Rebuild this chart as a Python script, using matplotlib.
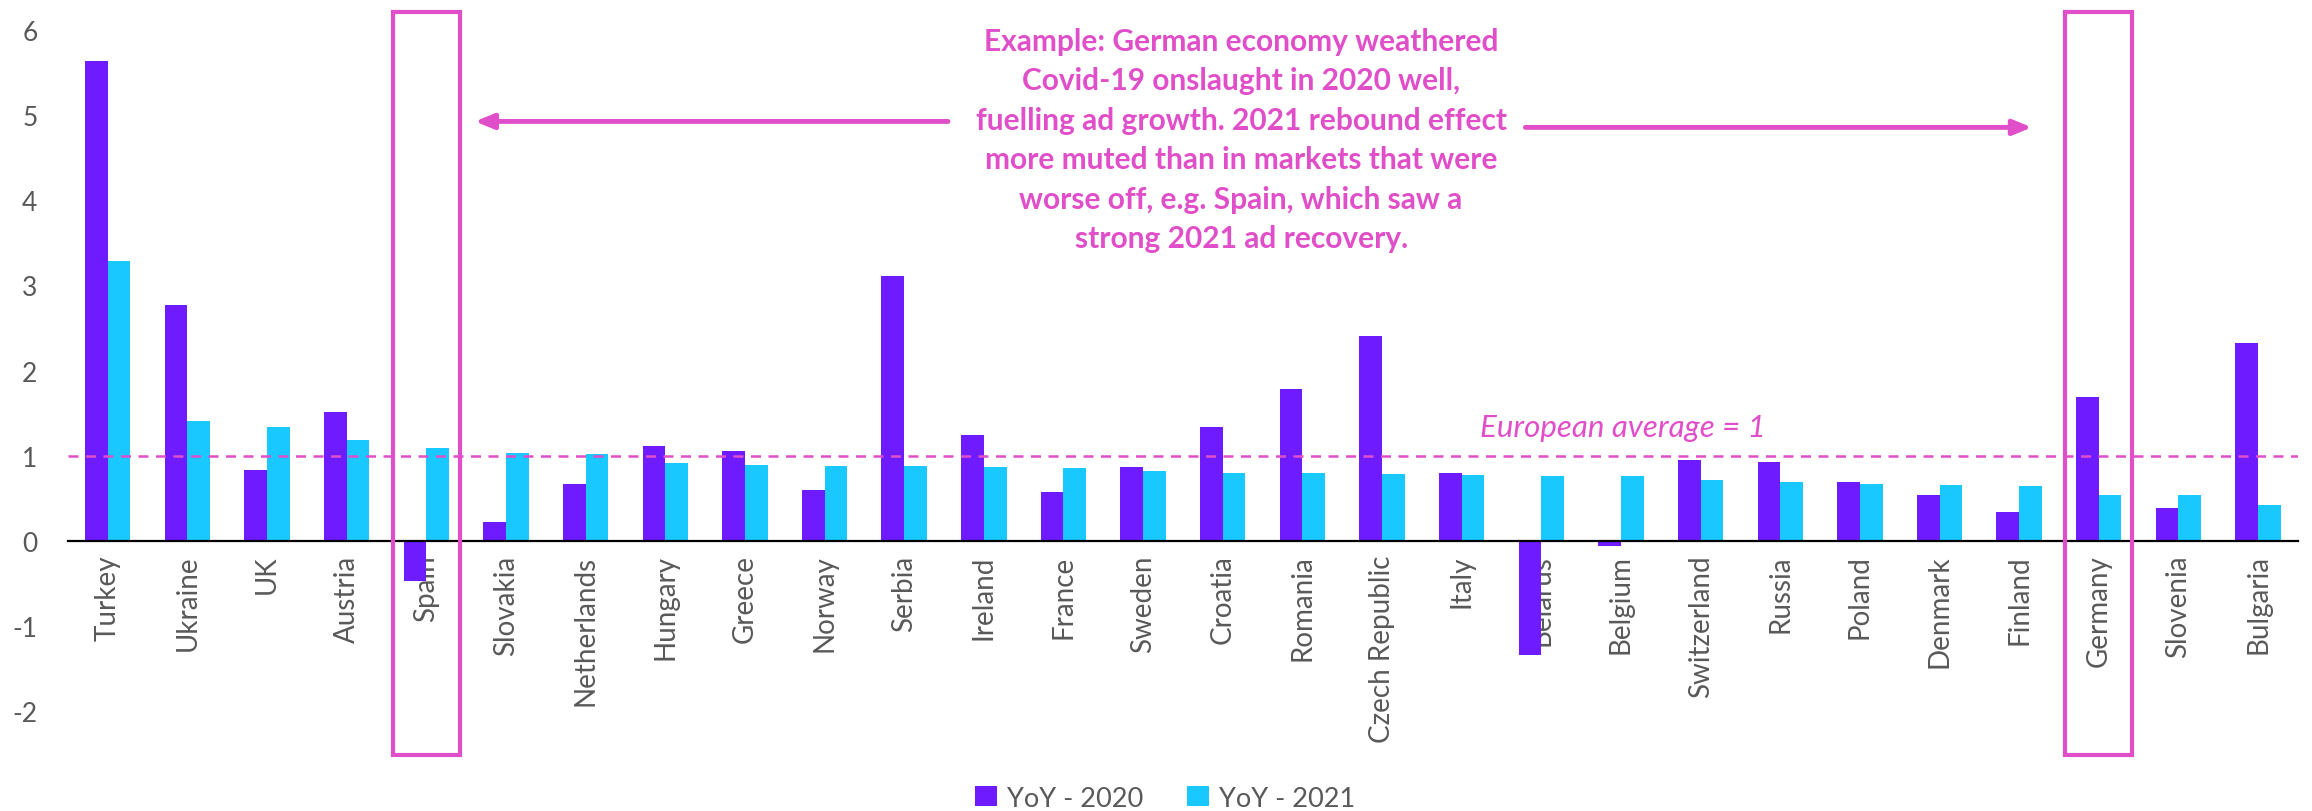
import matplotlib
matplotlib.use("Agg")
import matplotlib.pyplot as plt
from matplotlib.patches import Rectangle
import numpy as np

countries = ["Turkey", "Ukraine", "UK", "Austria", "Spain", "Slovakia", "Netherlands",
             "Hungary", "Greece", "Norway", "Serbia", "Ireland", "France", "Sweden",
             "Croatia", "Romania", "Czech Republic", "Italy", "Belarus", "Belgium",
             "Switzerland", "Russia", "Poland", "Denmark", "Finland", "Germany",
             "Slovenia", "Bulgaria"]
yoy_2020 = [5.64, 2.77, 0.83, 1.51, -0.48, 0.22, 0.67, 1.11, 1.05, 0.60, 3.11, 1.24,
            0.57, 0.86, 1.33, 1.78, 2.40, 0.79, -1.35, -0.06, 0.95, 0.92, 0.69, 0.54,
            0.34, 1.69, 0.38, 2.32]
yoy_2021 = [3.29, 1.41, 1.33, 1.18, 1.09, 1.03, 1.02, 0.91, 0.89, 0.88, 0.88, 0.87,
            0.85, 0.82, 0.80, 0.79, 0.78, 0.77, 0.76, 0.76, 0.71, 0.69, 0.66, 0.65,
            0.64, 0.54, 0.54, 0.42]
highlighted = ["Spain", "Germany"]
european_avg = 1
note = ("Example: German economy weathered\nCovid-19 onslaught in 2020 well,\n"
        "fuelling ad growth. 2021 rebound effect\nmore muted than in markets that were\n"
        "worse off, e.g. Spain, which saw a\nstrong 2021 ad recovery.")

purple = "#6E1BFF"
cyan = "#18C8FF"
pink = "#E04FC9"
grey = "#595959"
plt.rcParams["font.family"] = ["Lato", "DejaVu Sans"]
plt.rcParams["axes.unicode_minus"] = False

fig = plt.figure(figsize=(23.12, 8.12), dpi=100)
ax = fig.add_axes([0.0294, 0.0714, 0.9645, 0.916])

x = np.arange(len(countries))
w = 0.285
ax.bar(x - w / 2, yoy_2020, w, color=purple, label="YoY - 2020", zorder=2)
ax.bar(x + w / 2, yoy_2021, w, color=cyan, label="YoY - 2021", zorder=2)

# spine position first, it resets the ticks
for s in ["top", "right", "left"]:
    ax.spines[s].set_visible(False)
ax.spines["bottom"].set_position(("data", 0))
ax.spines["bottom"].set_linewidth(1.6)
ax.spines["bottom"].set_zorder(3)

ax.set_xlim(-0.5, len(countries) - 0.5)
ax.set_ylim(-2.5, 6.25)
ax.set_yticks(range(-2, 7))
ax.set_xticks(x)
ax.set_xticklabels(countries, rotation=90, fontsize=20, color=grey)
ax.tick_params(axis="x", length=0, pad=10)
ax.tick_params(axis="y", length=0, pad=22, labelsize=19, labelcolor=grey)

ax.axhline(european_avg, color=pink, lw=1.8, ls=(0, (4, 3)), zorder=3)
ax.text(19.03, 1.335, "European average = 1", color=pink, fontsize=22.5,
        style="italic", ha="center", va="center")

for c in highlighted:
    i = countries.index(c)
    ax.add_patch(Rectangle((i - 0.42, -2.52), 0.84, 8.74, fill=False,
                           edgecolor=pink, lw=3, clip_on=False, zorder=4))

ax.text(14.23, 4.72, note, color=pink, fontsize=21.5, fontweight="bold",
        ha="center", va="center", linespacing=1.5)
ax.annotate("", xy=(4.61, 4.93), xytext=(10.55, 4.93),
            arrowprops=dict(arrowstyle="-|>,head_length=1.1,head_width=0.45",
                            color=pink, lw=3.5, shrinkA=0, shrinkB=0))
ax.annotate("", xy=(24.16, 4.86), xytext=(17.8, 4.86),
            arrowprops=dict(arrowstyle="-|>,head_length=1.1,head_width=0.45",
                            color=pink, lw=3.5, shrinkA=0, shrinkB=0))

leg = fig.legend(loc="center", bbox_to_anchor=(0.504, 0.016), ncol=2, frameon=False,
                 fontsize=19.5, handlelength=0.8, handleheight=0.8, columnspacing=1.6,
                 handletextpad=0.4)
for t in leg.get_texts():
    t.set_color(grey)

fig.savefig("out.png", dpi=100)
